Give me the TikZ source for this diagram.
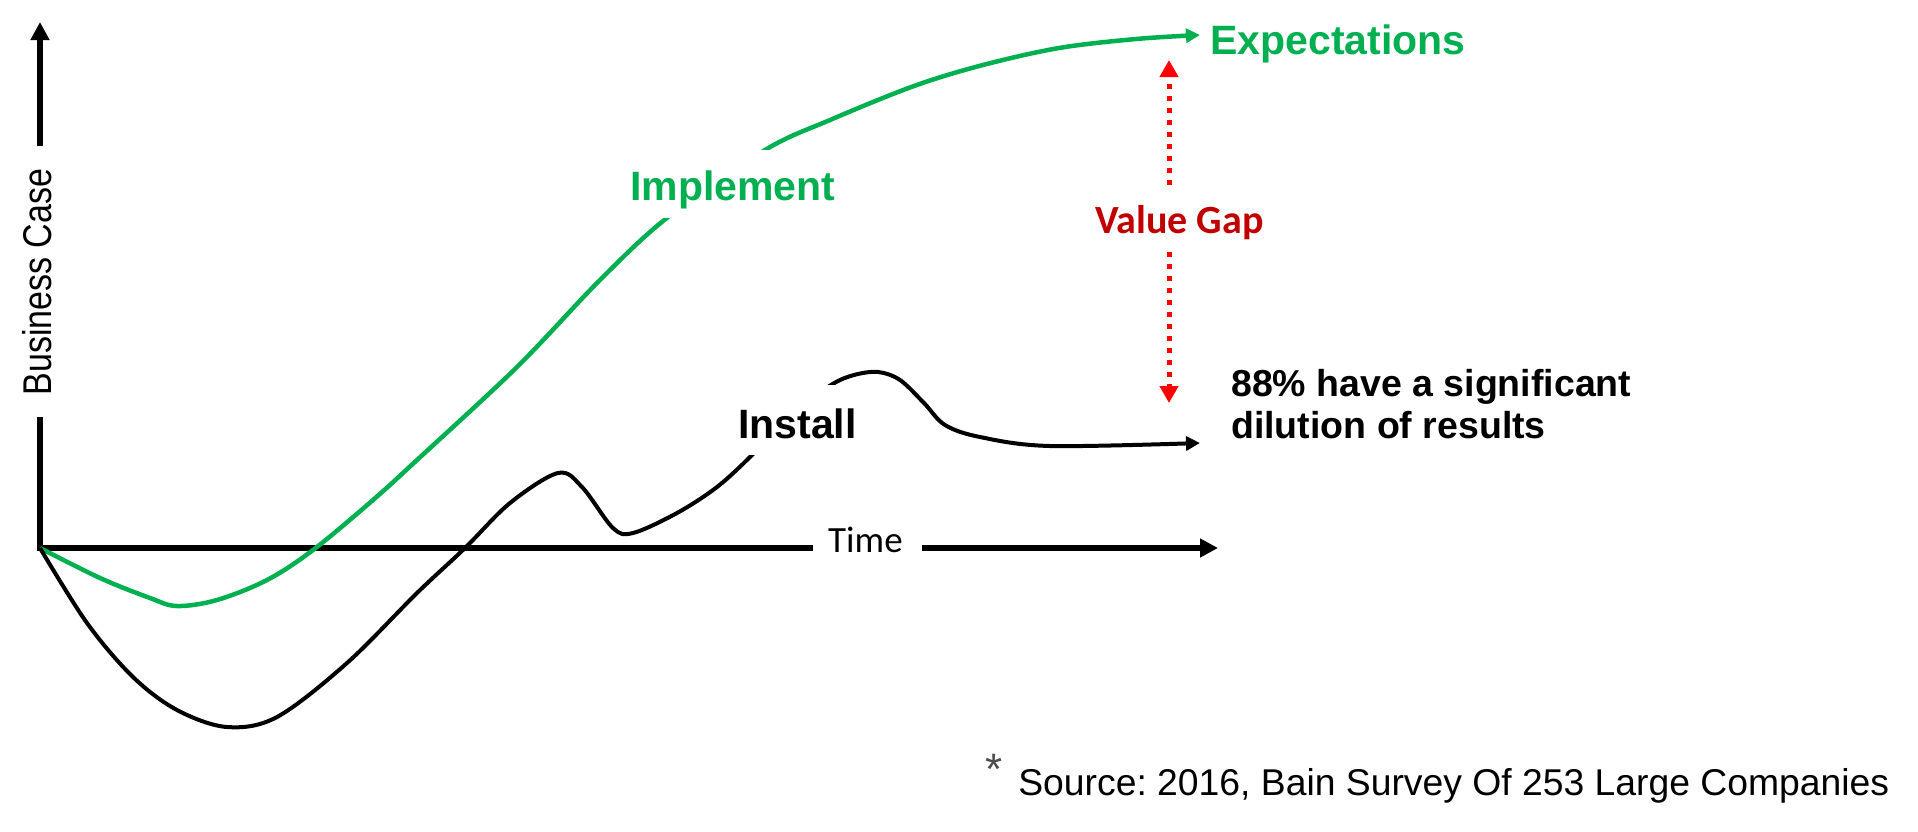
\documentclass[tikz,border=0pt]{standalone}
\usepackage{fontspec}
\setmainfont{Liberation Sans}
\newfontfamily\calfont{Carlito}
\usetikzlibrary{arrows.meta}
\definecolor{impgreen}{HTML}{00B050}
\definecolor{gapred}{HTML}{FF0000}
\definecolor{gaptext}{HTML}{C00000}
\definecolor{astgray}{HTML}{4D4D4D}
\tikzset{
  axisline/.style={line width=5.5pt, black, line join=miter},
  axistip/.style={-{Triangle[length=18pt,width=18pt]}},
  curveblack/.style={line width=4pt, black, -{Triangle[length=14pt,width=14pt]}},
  curvegreen/.style={line width=4.5pt, impgreen, -{Triangle[length=14pt,width=14pt]}},
  gaparrow/.style={line width=5pt, gapred, dash pattern=on 5pt off 7pt, -{Triangle[length=17pt,width=18pt]}},
  boldlbl/.style={inner sep=0pt, font=\bfseries\fontsize{41}{49}\selectfont},
}
\frenchspacing
\begin{document}
\begin{tikzpicture}[x=1pt,y=-1pt]
\useasboundingbox (0,0) rectangle (1918,831);
% axes
\coordinate (O) at (40,548);
\coordinate (yLow) at (40,417);
\coordinate (yHigh) at (40,146);
\coordinate (yTip) at (40,22);
\coordinate (xLeft) at (813,548);
\coordinate (xRight) at (922,548);
\coordinate (xTip) at (1218,548);
\draw[axisline] (yLow) -- (O) -- (xLeft);
\draw[axisline, axistip] (yHigh) -- (yTip);
\draw[axisline, axistip] (xRight) -- (xTip);
\node[inner sep=0pt, rotate=90, anchor=base, font=\fontsize{34}{40}\selectfont] (bc) at (51,282) {\scalebox{1}[1.18]{Business Case}};
\node[inner sep=0pt, anchor=base west, font=\calfont\fontsize{37}{44}\selectfont] (time) at (828,552) {Time};
% curves
\coordinate (gTip) at (1200,35);
\coordinate (bTip) at (1200,443);
\draw[curvegreen] plot[smooth, tension=0.55] coordinates {(O) (100,578) (150,598) (177,606) (217,600) (267,580) (313,550) (373,500) (417,460) (517,367) (600,280) (668,217) (765,150) (830,120) (914,86) (983,65) (1059,48) (1136,39) (gTip)};
\draw[curveblack] plot[smooth, tension=0.55] coordinates {(O) (87,623) (133,677) (177,710) (227,727) (277,717) (347,663) (417,593) (465,548) (510,503) (558,473) (582,487) (613,528) (633,533) (677,513) (717,487) (752,455) (790,415) (831,385) (854,375) (878,372) (900,380) (924,403) (945,425) (980,437) (1050,446) (bTip)};
% labels
\node[boldlbl, impgreen, anchor=base west, fill=white, inner xsep=4pt, inner ysep=9pt, text height=41pt, text depth=9pt] (impl) at (626,200) {Implement};
\node[boldlbl, black, anchor=base west, fill=white, inner xsep=4pt, inner ysep=12pt, text height=41pt, text depth=5pt] (inst) at (734,438) {Install};
\node[boldlbl, impgreen, anchor=base west] (expect) at (1210,54) {Expectations};
\node[inner sep=0pt, anchor=north west, align=left, font=\bfseries\fontsize{37.5}{42.5}\selectfont] (dil) at (1231,369) {88\% have a significant\\dilution of results};
\node[inner sep=0pt, anchor=base west, text=gaptext, font=\calfont\bfseries\fontsize{40}{48}\selectfont] (vg) at (1095,233) {Value Gap};
% value gap arrows
\coordinate (gUpA) at (1169,185);
\coordinate (gUpB) at (1169,60);
\coordinate (gLoA) at (1169,252);
\coordinate (gLoB) at (1169,403);
\draw[gaparrow] (gUpA) -- (gUpB);
\draw[gaparrow] (gLoA) -- (gLoB);
% source
\node[inner sep=0pt, anchor=base west, font=\fontsize{37.3}{44}\selectfont] (src) at (985,795) {\raisebox{10.5pt}{\textcolor{astgray}{\fontsize{44}{50}\selectfont *}}\hspace{16pt}Source: 2016, Bain Survey Of 253 Large Companies};
\end{tikzpicture}
\end{document}
